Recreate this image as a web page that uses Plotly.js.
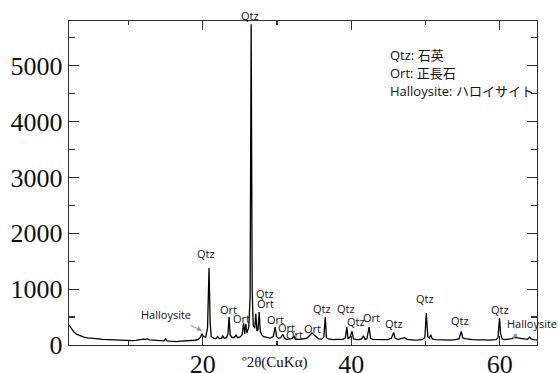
<!DOCTYPE html>
<html><head><meta charset="utf-8">
<script src="https://cdn.plot.ly/plotly-3.0.1.min.js"></script>
<style>html,body{margin:0;padding:0;background:#fff}#chart{width:558px;height:373px}</style>
</head><body><div id="chart"></div>
<script>
const twoTheta = [
 2.0,2.3,2.6,3.0,3.5,4.0,4.5,5.0,5.5,6.0,6.5,7.0,7.5,8.0,8.5,9.0,9.5,10.0,10.5,11.0,
 11.5,12.0,12.3,12.6,12.8,13.2,13.6,14.0,14.5,14.8,15.0,15.2,15.6,16.0,16.5,17.0,17.5,18.0,18.5,19.0,
 19.4,19.7,19.9,20.1,20.4,20.65,20.85,21.0,21.15,21.5,21.8,22.0,22.2,22.5,22.7,22.9,23.2,23.4,23.55,23.7,
 23.9,24.2,24.5,24.7,25.0,25.3,25.5,25.65,25.8,25.95,26.2,26.38,26.52,26.66,26.8,27.0,27.15,27.3,27.45,27.6,
 27.75,27.95,28.2,28.5,28.8,29.1,29.5,29.75,29.95,30.2,30.5,30.8,31.0,31.3,31.6,32.0,32.3,32.5,33.0,33.5,
 34.0,34.4,34.7,35.0,35.3,35.6,36.0,36.3,36.5,36.65,36.9,37.2,37.6,38.0,38.5,38.9,39.2,39.4,39.55,39.8,
 40.1,40.3,40.6,41.0,41.4,41.65,41.85,42.1,42.4,42.6,42.9,43.5,44.0,44.5,45.0,45.4,45.7,45.9,46.3,46.8,
 47.2,47.5,48.0,48.5,49.0,49.5,49.9,50.1,50.3,50.5,50.7,50.9,51.3,52.0,52.5,53.0,53.5,54.0,54.5,54.8,
 55.0,55.3,55.8,56.3,57.0,57.5,58.0,58.5,59.0,59.5,59.75,59.95,60.1,60.3,60.7,61.2,61.6,61.9,62.3,62.8,
 63.3,63.7,64.0,64.2,64.6,65.0
];
const counts = [
 360,290,240,195,160,140,128,118,112,108,102,98,92,88,90,82,80,76,80,82,
 95,105,100,110,90,85,80,75,78,75,110,75,70,65,62,68,70,72,75,85,
 100,140,200,150,140,300,1380,400,150,120,115,150,120,115,160,120,130,200,500,180,
 140,130,175,130,140,180,390,200,380,220,320,850,5740,950,350,300,560,250,280,590,
 250,180,150,140,130,125,150,320,150,120,130,190,120,100,105,115,150,100,100,105,
 120,170,215,180,140,110,105,140,500,130,110,100,95,100,95,100,130,320,120,130,
 245,110,100,95,110,165,100,110,320,120,100,95,90,95,100,120,225,120,100,110,
 130,100,90,88,90,95,130,570,150,120,185,110,95,90,88,90,88,95,110,245,
 130,115,100,95,90,95,90,88,90,95,130,480,200,110,95,100,115,135,125,110,
 100,100,140,110,95,90
];
// peak labels: text, 2θ position, count position
const labelText = ["Qtz","Halloysite","Ort","Ort","Qtz","Ort","Ort","Ort","Ort","Ort","Qtz","Qtz","Qtz","Ort","Qtz","Qtz","Qtz","Qtz","Halloysite"];
const labelX = [20.46,15.07,23.46,25.26,28.45,28.45,29.80,31.32,32.36,34.74,36.04,39.33,40.67,42.70,45.70,49.97,54.60,60.0,64.26];
const labelY = [1633,554,644,476,930,738,465,322,184,304,662,662,422,501,393,828,434,644,381];
const legendLines = ["Qtz: 石英","Ort: 正長石","Halloysite: ハロイサイト"];
const xTicks = [20,40,60];
const yTicks = [0,1000,2000,3000,4000,5000];

const sans = "Open Sans, Noto Sans CJK JP, sans-serif";
const serif = "Liberation Serif, Times New Roman, serif";

const anns = [];
for (let i = 0; i < labelText.length; i++) {
  anns.push({x: labelX[i], y: labelY[i], xref:'x', yref:'y', text: labelText[i], showarrow:false,
    font:{family:sans, size:11, color:'#111'}, xanchor:'center', yanchor:'middle'});
}
anns.push({x: 26.43, y: 1.0176, xref:'x', yref:'paper', text:'Qtz', showarrow:false,
  font:{family:sans, size:11, color:'#111'}, xanchor:'center', yanchor:'middle'});
// arrows to halloysite bumps
anns.push({x: 19.92, y: 256, xref:'x', yref:'y', text:'', showarrow:true, ax:-13, ay:-6,
  arrowhead:2, arrowsize:1, arrowwidth:1, arrowcolor:'#6b9bd2', standoff:0});
anns.push({x: 61.70, y: 125, xref:'x', yref:'y', text:'', showarrow:true, ax:6, ay:-5,
  arrowhead:2, arrowsize:1, arrowwidth:1, arrowcolor:'#6b9bd2', standoff:0});
const legY = [0.894, 0.840, 0.783];
legendLines.forEach((t, i) => anns.push({x:0.681, y:legY[i], xref:'paper', yref:'paper', text:t,
  showarrow:false, xanchor:'left', yanchor:'middle', font:{family:sans, size:13, color:'#111'}}));
// x-axis title placed between tick labels
anns.push({x:0.44, y:-0.0545, xref:'paper', yref:'paper', text:'º2θ(CuKα)', showarrow:false,
  xanchor:'center', yanchor:'middle', font:{family:serif, size:15, color:'#111'}});

const trace = {x: twoTheta, y: counts, type:'scatter', mode:'lines',
  line:{color:'#000', width:1.3}, hoverinfo:'skip'};

const axisCommon = {showgrid:false, zeroline:false, showline:true, linecolor:'#333', linewidth:1.3,
  mirror:'allticks', ticks:'inside', tickcolor:'#333', tickwidth:1.2,
  tickfont:{family:serif, size:26, color:'#111'}};

const layout = {
  width:558, height:373,
  margin:{l:69, r:21, t:21, b:28, pad:0},
  paper_bgcolor:'#fff', plot_bgcolor:'#fff', showlegend:false,
  xaxis: Object.assign({}, axisCommon, {range:[2,65], tickvals:xTicks, ticktext:xTicks.map(String), ticklen:9,
    ticklabelstandoff:-5,
    minor:{dtick:10, tick0:0, ticks:'inside', ticklen:4, tickcolor:'#333', tickwidth:1.2}}),
  yaxis: Object.assign({}, axisCommon, {range:[0,5800], tickvals:yTicks, ticktext:yTicks.map(String), ticklen:10,
    minor:{dtick:500, tick0:0, ticks:'inside', ticklen:6, tickcolor:'#333', tickwidth:1.2}}),
  annotations: anns
};
Plotly.newPlot('chart', [trace], layout, {staticPlot:true, displayModeBar:false});
</script></body></html>
